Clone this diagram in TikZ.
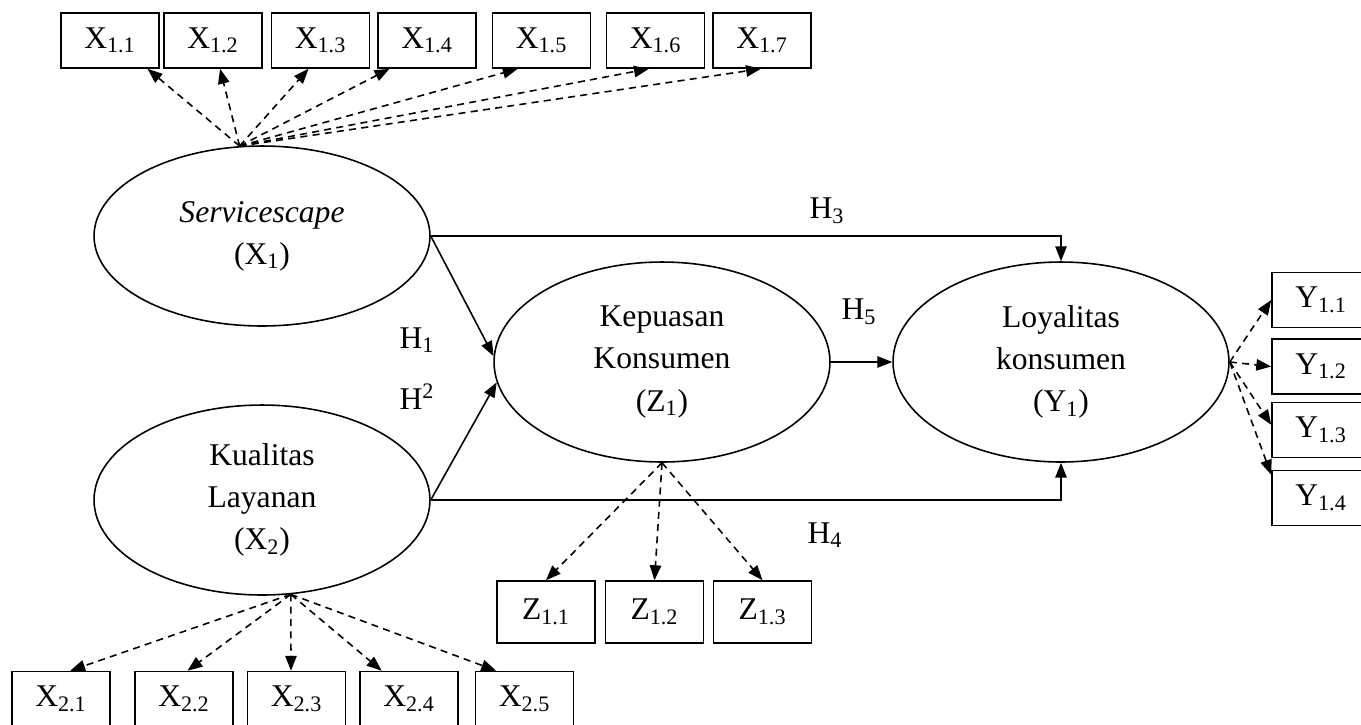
\documentclass[tikz,border=0pt]{standalone}
\usepackage{fontspec}
\setmainfont{Liberation Serif}
\usetikzlibrary{shapes.geometric,arrows.meta}

\begin{document}
\begin{tikzpicture}[
        x=0.02cm, y=-0.02cm,
        font=\fontsize{18}{24}\selectfont,
        >={Triangle[length=8.5pt,width=6.5pt]},
        latent/.style={ellipse, draw, line width=0.9pt, inner sep=0pt, minimum width=6.72cm, align=center},
        indicator/.style={rectangle, draw, line width=0.9pt, minimum width=1.96cm, minimum height=1.1cm, inner sep=0pt},
        hyp/.style={draw, ->, line width=0.9pt},
        loading/.style={draw, ->, line width=0.9pt, dash pattern=on 4pt off 3pt},
        lbl/.style={inner sep=0pt}
    ]
        \useasboundingbox (0,0) rectangle (1361,724);

        % latent variables
        \node[latent, minimum height=3.6cm] (serv) at (262,236) {\textit{Servicescape}\\(X\textsubscript{1})};
        \node[latent, minimum height=3.8cm] (kual) at (262,500) {Kualitas\\Layanan\\(X\textsubscript{2})};
        \node[latent, minimum height=4cm] (kep) at (662,362) {Kepuasan\\Konsumen\\(Z\textsubscript{1})};
        \node[latent, minimum height=4cm] (loyal) at (1061,362) {Loyalitas\\konsumen\\(Y\textsubscript{1})};

        % indicators of X1
        \node[indicator] (x11) at (110,40.5) {X\textsubscript{1.1}};
        \node[indicator] (x12) at (213,40.5) {X\textsubscript{1.2}};
        \node[indicator] (x13) at (320.5,40.5) {X\textsubscript{1.3}};
        \node[indicator] (x14) at (427,40.5) {X\textsubscript{1.4}};
        \node[indicator] (x15) at (541.5,40.5) {X\textsubscript{1.5}};
        \node[indicator] (x16) at (655.5,40.5) {X\textsubscript{1.6}};
        \node[indicator] (x17) at (762,40.5) {X\textsubscript{1.7}};

        % indicators of X2
        \node[indicator] (x21) at (61,699) {X\textsubscript{2.1}};
        \node[indicator] (x22) at (184,699) {X\textsubscript{2.2}};
        \node[indicator] (x23) at (296.5,699) {X\textsubscript{2.3}};
        \node[indicator] (x24) at (409,699) {X\textsubscript{2.4}};
        \node[indicator] (x25) at (524.5,699) {X\textsubscript{2.5}};

        % indicators of Z1
        \node[indicator, minimum height=1.24cm] (z11) at (546,612) {Z\textsubscript{1.1}};
        \node[indicator, minimum height=1.24cm] (z12) at (654.5,612) {Z\textsubscript{1.2}};
        \node[indicator, minimum height=1.24cm] (z13) at (762.5,612) {Z\textsubscript{1.3}};

        % indicators of Y1
        \node[indicator] (y11) at (1321,300) {Y\textsubscript{1.1}};
        \node[indicator] (y12) at (1321,366.5) {Y\textsubscript{1.2}};
        \node[indicator] (y13) at (1321,430) {Y\textsubscript{1.3}};
        \node[indicator] (y14) at (1321,498) {Y\textsubscript{1.4}};

        % hypotheses
        \node[lbl] (h1) at (417,340) {H\textsubscript{1}};
        \node[lbl] (h2) at (417,397) {H\textsuperscript{2}};
        \node[lbl] (h3) at (827,211) {H\textsubscript{3}};
        \node[lbl] (h4) at (825,535) {H\textsubscript{4}};
        \node[lbl] (h5) at (859,312) {H\textsubscript{5}};

        \draw[hyp] (serv.east) -- (kep.178);
        \draw[hyp] (kual.east) -- (kep.187);
        \draw[hyp] (serv.east) -| (loyal.north);
        \draw[hyp] (kual.east) -| (loyal.south);
        \draw[hyp] (kep.east) -- (loyal.west);

        \draw[loading] (serv.104) -- (x11.-37);
        \draw[loading] (serv.104) -- (x12.-76);
        \draw[loading] (serv.104) -- (x13.-113);
        \draw[loading] (serv.104) -- (x14.-143);
        \draw[loading] (serv.104) -- (x15.-130);
        \draw[loading] (serv.104) -- (x16.-103);
        \draw[loading] (serv.104) -- (x17.-92);

        \draw[loading] (kual.-73) -- (x21.72);
        \draw[loading] (kual.-73) -- (x22.83);
        \draw[loading] (kual.-73) -- (x23.101);
        \draw[loading] (kual.-73) -- (x24.134);
        \draw[loading] (kual.-73) -- (x25.135);

        \draw[loading] (kep.south) -- (z11.north);
        \draw[loading] (kep.south) -- (z12.north);
        \draw[loading] (kep.south) -- (z13.north);

        \draw[loading] (loyal.east) -- (y11.west);
        \draw[loading] (loyal.east) -- (y12.west);
        \draw[loading] (loyal.east) -- (y13.174);
        \draw[loading] (loyal.east) -- (y14.155);
    \end{tikzpicture}
\end{document}
